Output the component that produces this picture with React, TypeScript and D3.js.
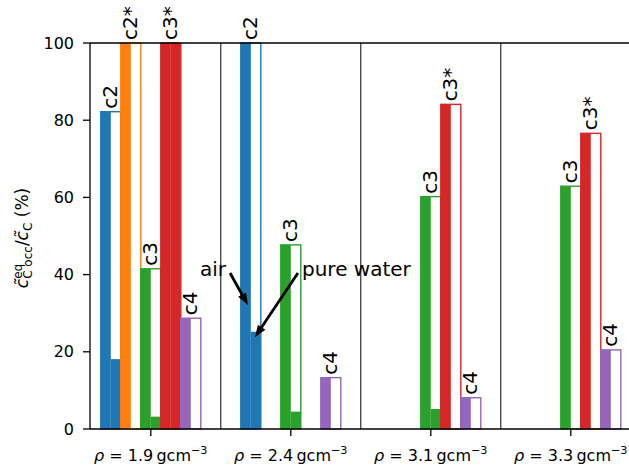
import React from "react";
import * as d3 from "d3";

const W = 629;
const H = 467;

const groupLabels = ["1.9", "2.4", "3.1", "3.3"];
const species = ["c2", "c2*", "c3", "c3*", "c4"];
const colors = ["#1f77b4", "#ff7f0e", "#2ca02c", "#d62728", "#9467bd"];

// air (filled left half) values per group
const airC2 = [82.2, 100, null, null];
const airC2s = [100, null, null, null];
const airC3 = [41.5, 47.7, 60.2, 62.9];
const airC3s = [100, null, 84.1, 76.6];
const airC4 = [28.7, 13.3, 8.1, 20.5];
// pure water (filled right half) values per group
const waterC2 = [18.1, 25.2, null, null];
const waterC2s = [0, null, null, null];
const waterC3 = [3.2, 4.5, 5.2, 0];
const waterC3s = [100, null, 0, 0];
const waterC4 = [0, 0, 0, 0];

const yTicks = [0, 20, 40, 60, 80, 100];

const annTexts = ["air", "pure water"];
const annTextPos = [
  [0.351, 39.6],
  [1.08, 39.6],
];
const annArrowFrom = [
  [0.566, 40.4],
  [1.051, 40.4],
];
const annArrowTo = [
  [0.694, 32.1],
  [0.744, 23.8],
];

const airAll = [airC2, airC2s, airC3, airC3s, airC4];
const waterAll = [waterC2, waterC2s, waterC3, waterC3s, waterC4];

const FONT = "DejaVu Sans";

export default function App() {
  const left = 90;
  const top = 43;
  const bottom = 429;
  const x = d3.scaleLinear().domain([0, 3]).range([150.8, 570.8]);
  const y = d3.scaleLinear().domain([0, 100]).range([bottom, top]);
  const unit = x(1) - x(0);
  const bw = unit / 7;

  const bars: any[] = [];
  species.forEach((sp, k) => {
    groupLabels.forEach((g, i) => {
      const a = airAll[k][i];
      const w = waterAll[k][i];
      if (a == null) return;
      const xc = x(i + (k - 2) / 7);
      bars.push({ sp, k, i, a, w: w ?? 0, xc });
    });
  });

  const arrows = annTexts.map((t, j) => {
    const x0 = x(annArrowFrom[j][0]);
    const y0 = y(annArrowFrom[j][1]);
    const x1 = x(annArrowTo[j][0]);
    const y1 = y(annArrowTo[j][1]);
    const dx = x1 - x0;
    const dy = y1 - y0;
    const L = Math.hypot(dx, dy);
    const ux = dx / L;
    const uy = dy / L;
    const hl = 12;
    const hw = 9;
    const bx = x1 - ux * hl;
    const by = y1 - uy * hl;
    const px = -uy;
    const py = ux;
    return {
      line: [x0, y0, bx + ux * 1, by + uy * 1],
      head: `${x1},${y1} ${bx + (px * hw) / 2},${by + (py * hw) / 2} ${bx - (px * hw) / 2},${by - (py * hw) / 2}`,
    };
  });

  return (
    <svg
      width={W}
      height={H}
      style={{ position: "absolute", left: 0, top: 0, background: "#fff" }}
      fontFamily={FONT}
    >
      <rect x={0} y={0} width={W} height={H} fill="#fff" />
      {/* group separators */}
      {[0.5, 1.5, 2.5].map((v) => (
        <line key={v} x1={x(v)} x2={x(v)} y1={top} y2={bottom} stroke="#000" strokeWidth={1} />
      ))}
      {/* bars */}
      {bars.map((b) => {
        const c = colors[b.k];
        const x0 = b.xc - bw / 2;
        return (
          <g key={`${b.k}-${b.i}`}>
            <rect x={x0} y={y(b.a)} width={bw / 2} height={y(0) - y(b.a)} fill={c} />
            <rect x={b.xc} y={y(b.w)} width={bw / 2} height={y(0) - y(b.w)} fill={c} />
            <rect
              x={x0}
              y={y(b.a)}
              width={bw}
              height={y(0) - y(b.a)}
              fill="none"
              stroke={c}
              strokeWidth={1.4}
            />
          </g>
        );
      })}
      {/* bar labels */}
      {bars.map((b) => (
        <text
          key={`l-${b.k}-${b.i}`}
          transform={`translate(${b.xc},${y(b.a) - 3}) rotate(-90)`}
          y={6.5}
          fontSize={20}
          textAnchor="start"
          fill="#000"
        >
          {b.sp}
        </text>
      ))}
      {/* annotations */}
      {annTexts.map((t, j) => (
        <g key={t}>
          <text x={x(annTextPos[j][0])} y={y(annTextPos[j][1])} fontSize={20} fill="#000">
            {t}
          </text>
          <line
            x1={arrows[j].line[0]}
            y1={arrows[j].line[1]}
            x2={arrows[j].line[2]}
            y2={arrows[j].line[3]}
            stroke="#000"
            strokeWidth={2.8}
          />
          <polygon points={arrows[j].head} fill="#000" />
        </g>
      ))}
      {/* spines */}
      <line x1={left} x2={W} y1={top} y2={top} stroke="#000" strokeWidth={1.3} />
      <line x1={left} x2={W} y1={bottom} y2={bottom} stroke="#000" strokeWidth={1.3} />
      <line x1={left} x2={left} y1={top} y2={bottom} stroke="#000" strokeWidth={1.3} />
      {/* y ticks */}
      {yTicks.map((t) => (
        <g key={t}>
          <line x1={left - 7} x2={left} y1={y(t)} y2={y(t)} stroke="#000" strokeWidth={1.3} />
          <text x={left - 16} y={y(t)} textAnchor="end" dominantBaseline="central" fontSize={16} fill="#000">
            {t}
          </text>
        </g>
      ))}
      {/* x ticks */}
      {groupLabels.map((g, i) => (
        <g key={g}>
          <line x1={x(i)} x2={x(i)} y1={bottom} y2={bottom + 7} stroke="#000" strokeWidth={1.3} />
          <text x={x(i)} y={461} textAnchor="middle" fontSize={16} fill="#000">
            <tspan fontStyle="italic">ρ</tspan>
            <tspan>{` = ${g}\u2009gcm`}</tspan>
            <tspan fontSize={11.2} dy={-7}>
              −3
            </tspan>
          </text>
        </g>
      ))}
      {/* y label */}
      <text transform={`translate(28,238) rotate(-90)`} textAnchor="middle" fontSize={17} fill="#000">
        <tspan fontStyle="italic">{"c\u0303"}</tspan>
        <tspan fontSize={12} dy={-6}>
          eq
        </tspan>
        <tspan fontSize={12} dx={-15} dy={10}>
          C occ
        </tspan>
        <tspan dy={-4}>/</tspan>
        <tspan fontStyle="italic">{"c\u0303"}</tspan>
        <tspan fontSize={12} dy={4}>
          C
        </tspan>
        <tspan dy={-4}> (%)</tspan>
      </text>
    </svg>
  );
}
